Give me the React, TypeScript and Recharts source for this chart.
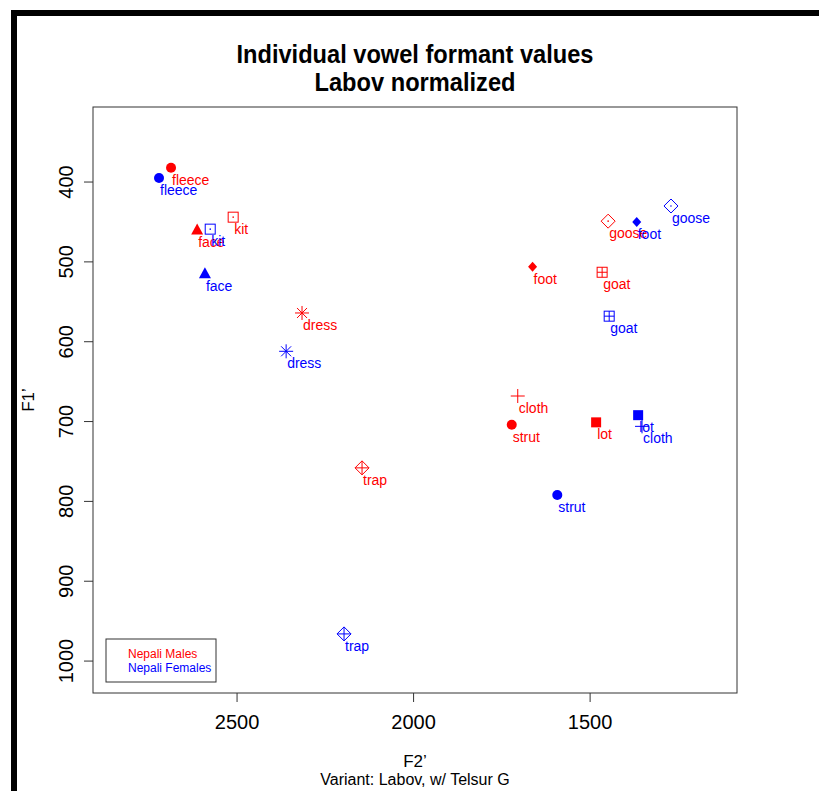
import React from 'react';
import { ScatterChart, Scatter, XAxis, YAxis, Customized } from 'recharts';

// vowel classes, in plotting order
const VOWELS = ['fleece', 'kit', 'face', 'dress', 'trap', 'goose', 'foot', 'goat', 'lot', 'cloth', 'strut'];

// Labov-normalized means (Hz)
const MALE_F2 = [2687, 2511, 2613, 2316, 2146, 1449, 1663, 1466, 1483, 1705, 1722];
const MALE_F1 = [382, 444, 460, 564, 758, 449, 506, 513, 701, 668, 704];
const FEMALE_F2 = [2721, 2576, 2591, 2361, 2197, 1271, 1368, 1446, 1364, 1353, 1593];
const FEMALE_F1 = [395, 459, 515, 612, 966, 430, 450, 568, 692, 706, 792];

const X_TICKS = [1500, 2000, 2500];
const Y_TICKS = [400, 500, 600, 700, 800, 900, 1000];
const X_DOMAIN = [1084, 2908];
const Y_DOMAIN = [306, 1040];

const GROUPS = ['Nepali Males', 'Nepali Females'];
const RED = '#ff0000';
const BLUE = '#0000ff';

const W = 819;
const H = 791;
const PLOT = { left: 93, top: 107, right: 737, bottom: 693 };
const FONT = '"Liberation Sans", Arial, Helvetica, sans-serif';

type Pt = { vowel: string; f2: number; f1: number };

const build = (f2: number[], f1: number[]): Pt[] =>
  VOWELS.map((v, i) => ({ vowel: v, f2: f2[i], f1: f1[i] }));

const males = build(MALE_F2, MALE_F1);
const females = build(FEMALE_F2, FEMALE_F1);

// R-style plotting symbols, one per vowel
const Marker = ({ cx, cy, vowel, color }: { cx: number; cy: number; vowel: string; color: string }) => {
  const s = { stroke: color, strokeWidth: 1, fill: 'none' };
  switch (vowel) {
    case 'fleece':
    case 'strut':
      return <circle cx={cx} cy={cy} r={5} fill={color} />;
    case 'kit':
      return (
        <g>
          <rect x={cx - 5} y={cy - 5} width={10} height={10} {...s} />
          <circle cx={cx} cy={cy} r={0.8} fill={color} />
        </g>
      );
    case 'face':
      return <polygon points={`${cx},${cy - 6.5} ${cx - 6},${cy + 4.5} ${cx + 6},${cy + 4.5}`} fill={color} />;
    case 'dress':
      return (
        <g {...s}>
          <line x1={cx - 7} y1={cy} x2={cx + 7} y2={cy} />
          <line x1={cx} y1={cy - 7} x2={cx} y2={cy + 7} />
          <line x1={cx - 5} y1={cy - 5} x2={cx + 5} y2={cy + 5} />
          <line x1={cx - 5} y1={cy + 5} x2={cx + 5} y2={cy - 5} />
        </g>
      );
    case 'trap':
      return (
        <g {...s}>
          <polygon points={`${cx},${cy - 7} ${cx + 7},${cy} ${cx},${cy + 7} ${cx - 7},${cy}`} />
          <line x1={cx - 7} y1={cy} x2={cx + 7} y2={cy} />
          <line x1={cx} y1={cy - 7} x2={cx} y2={cy + 7} />
        </g>
      );
    case 'goose':
      return (
        <g>
          <polygon points={`${cx},${cy - 7} ${cx + 7},${cy} ${cx},${cy + 7} ${cx - 7},${cy}`} {...s} />
          <circle cx={cx} cy={cy} r={0.8} fill={color} />
        </g>
      );
    case 'foot':
      return <polygon points={`${cx},${cy - 5} ${cx + 4.5},${cy} ${cx},${cy + 5} ${cx - 4.5},${cy}`} fill={color} />;
    case 'goat':
      return (
        <g {...s}>
          <rect x={cx - 5} y={cy - 5} width={10} height={10} />
          <line x1={cx - 5} y1={cy} x2={cx + 5} y2={cy} />
          <line x1={cx} y1={cy - 5} x2={cx} y2={cy + 5} />
        </g>
      );
    case 'lot':
      return <rect x={cx - 5} y={cy - 5} width={10} height={10} fill={color} />;
    case 'cloth':
    default:
      return (
        <g {...s}>
          <line x1={cx - 7} y1={cy} x2={cx + 7} y2={cy} />
          <line x1={cx} y1={cy - 7} x2={cx} y2={cy + 7} />
        </g>
      );
  }
};

const makeShape = (color: string) => (props: any) => {
  const { cx, cy, payload } = props;
  return (
    <g>
      <Marker cx={cx} cy={cy} vowel={payload.vowel} color={color} />
      <text x={cx + 1} y={cy + 12} dy="0.35em" fill={color} fontSize={14} fontFamily={FONT}>
        {payload.vowel}
      </text>
    </g>
  );
};

const XTick = (props: any) => (
  <text x={props.x} y={PLOT.bottom + 36} textAnchor="middle" fontSize={20} fontFamily={FONT} fill="#000">
    {props.payload.value}
  </text>
);

const YTick = (props: any) => {
  const x = PLOT.left - 20;
  return (
    <text
      x={x}
      y={props.y}
      transform={`rotate(-90, ${x}, ${props.y})`}
      textAnchor="middle"
      fontSize={20}
      fontFamily={FONT}
      fill="#000"
    >
      {props.payload.value}
    </text>
  );
};

const Annotations = () => {
  const mid = (PLOT.left + PLOT.right) / 2;
  return (
    <g fontFamily={FONT}>
      <rect
        x={PLOT.left}
        y={PLOT.top}
        width={PLOT.right - PLOT.left}
        height={PLOT.bottom - PLOT.top}
        fill="none"
        stroke="#333"
      />
      <text x={mid} y={63} textAnchor="middle" fontSize={26} fontWeight="bold" textLength={357} lengthAdjust="spacingAndGlyphs">
        Individual vowel formant values
      </text>
      <text x={mid} y={91} textAnchor="middle" fontSize={26} fontWeight="bold" textLength={201} lengthAdjust="spacingAndGlyphs">
        Labov normalized
      </text>
      <text x={mid} y={767} textAnchor="middle" fontSize={17}>
        F2’
      </text>
      <text x={mid} y={785} textAnchor="middle" fontSize={16}>
        Variant: Labov, w/ Telsur G
      </text>
      <text x={34} y={400} transform="rotate(-90, 34, 400)" textAnchor="middle" fontSize={17}>
        F1’
      </text>
      <rect x={106} y={639} width={110} height={43} fill="#fff" stroke="#333" />
      <text x={128} y={654} dy="0.35em" fontSize={12} fill={RED}>
        {GROUPS[0]}
      </text>
      <text x={128} y={668} dy="0.35em" fontSize={12} fill={BLUE}>
        {GROUPS[1]}
      </text>
    </g>
  );
};

export default function App() {
  return (
    <div style={{ position: 'absolute', left: 0, top: 0, width: W, height: H, background: '#fff', overflow: 'hidden' }}>
      <div style={{ position: 'absolute', left: 11, top: 10, width: W - 11, height: 6, background: '#000' }} />
      <div style={{ position: 'absolute', left: 11, top: 10, width: 6, height: H - 10, background: '#000' }} />
      <ScatterChart
        width={W}
        height={H}
        margin={{ top: PLOT.top, right: W - PLOT.right, bottom: H - PLOT.bottom - 30, left: PLOT.left - 60 }}
      >
        <XAxis
          type="number"
          dataKey="f2"
          domain={X_DOMAIN}
          reversed
          allowDataOverflow
          ticks={X_TICKS}
          axisLine={false}
          tickSize={9}
          tickLine={{ stroke: '#333' }}
          tick={XTick}
          height={30}
        />
        <YAxis
          type="number"
          dataKey="f1"
          domain={Y_DOMAIN}
          reversed
          allowDataOverflow
          ticks={Y_TICKS}
          axisLine={false}
          tickSize={9}
          tickLine={{ stroke: '#333' }}
          tick={YTick}
          width={60}
        />
        <Scatter name={GROUPS[0]} data={males} shape={makeShape(RED)} isAnimationActive={false} />
        <Scatter name={GROUPS[1]} data={females} shape={makeShape(BLUE)} isAnimationActive={false} />
        <Customized component={Annotations} />
      </ScatterChart>
    </div>
  );
}
